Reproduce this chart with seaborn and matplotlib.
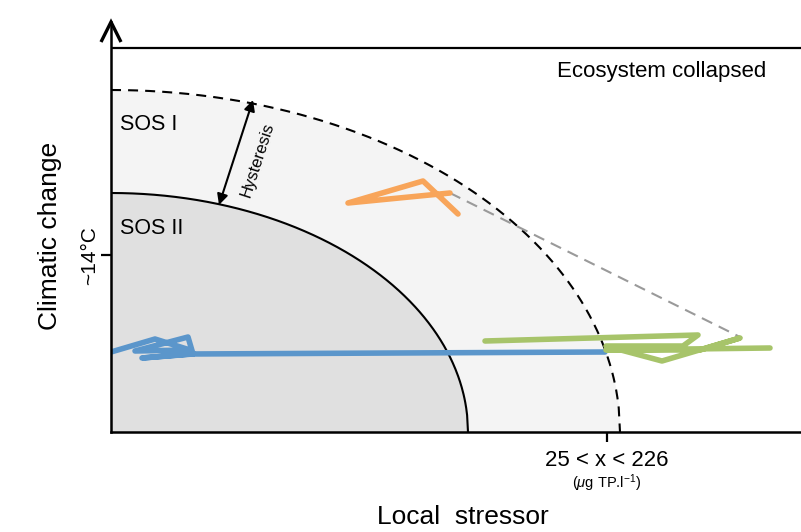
import numpy as np
import matplotlib
matplotlib.use("Agg")
import matplotlib.pyplot as plt
import seaborn as sns

# ---- data (x: local stressor units, y: climatic change units) ----
outer_a, outer_b = 509, 342          # SOS I boundary (dashed)
inner_a, inner_b = 357, 239          # SOS II boundary (solid)
collapse_y = 384                     # "Ecosystem collapsed" line

orange_x = [347, 312, 237, 339]
orange_y = [218, 251, 229, 239]
gray_x = [339, 631]
gray_y = [239, 94]
blue_x = [0, 44, 79, 24, 77, 82, 31, 79, 494]
blue_y = [80, 93, 82, 81, 95, 78, 74, 78, 80]
green_x = [374, 587, 572, 495, 551, 629, 589, 495, 659]
green_y = [91, 97, 86, 86, 71, 94, 82, 82, 84]

xtick_pos = [496]
ytick_pos = [177]
xtick_label = "25 < x < 226"
xtick_unit = r"($\mu$g TP.l$^{-1}$)"
ytick_label = "~14°C"

sns.set_style("white")
plt.rcParams['font.family'] = ['Liberation Sans', 'DejaVu Sans']
plt.rcParams['text.color'] = 'black'
plt.rcParams['mathtext.fontset'] = 'custom'
plt.rcParams['mathtext.rm'] = 'Liberation Sans'
plt.rcParams['mathtext.it'] = 'Liberation Sans:italic'

fig = plt.figure(figsize=(8.01, 5.32), dpi=100)
ax = fig.add_axes([111/801, 100/532, 690/801, 410/532])
ax.set_xlim(0, 690)
ax.set_ylim(0, 410)

# regions
xo = np.linspace(0, outer_a, 400)
yo = outer_b * np.sqrt(np.clip(1 - (xo/outer_a)**2, 0, None))
xi = np.linspace(0, inner_a, 400)
yi = inner_b * np.sqrt(np.clip(1 - (xi/inner_a)**2, 0, None))
ax.fill_between(xo, 0, yo, color='#f4f4f4', lw=0, zorder=1)
ax.fill_between(xi, 0, yi, color='#e0e0e0', lw=0, zorder=2)
ax.plot(xo, yo, color='black', lw=1.5, dashes=(4.8, 3.4), zorder=3)
ax.plot(xi, yi, color='black', lw=1.5, zorder=3)

# collapse line
ax.plot([0, 690], [collapse_y, collapse_y], color='black', lw=1.6, zorder=3)

# trajectories
sns.lineplot(x=gray_x, y=gray_y, sort=False, estimator=None, color='#9a9a9a',
             linewidth=1.5, ax=ax, zorder=4)
ax.lines[-1].set_dashes((5.5, 3.5))
for xs, ys, c in [(blue_x, blue_y, '#5b96cb'),
                  (green_x, green_y, '#a7c46a'),
                  (orange_x, orange_y, '#f8a55a')]:
    sns.lineplot(x=xs, y=ys, sort=False, estimator=None, color=c, ax=ax,
                 zorder=5)
    ax.lines[-1].set_linewidth(4.0)
    ax.lines[-1].set_solid_joinstyle('round')

# hysteresis arrow
ax.annotate('', xy=(142, 332), xytext=(108, 227),
            arrowprops=dict(arrowstyle='<|-|>', color='black', lw=1.5,
                            mutation_scale=16, shrinkA=0, shrinkB=0), zorder=6)
ax.text(146, 272, 'Hysteresis', rotation=72, ha='center', va='center',
        fontsize=12, zorder=6)

# spines, ticks
for s in ['top', 'right']:
    ax.spines[s].set_visible(False)
for s in ['left', 'bottom']:
    ax.spines[s].set_linewidth(1.8)
    ax.spines[s].set_color('black')
    ax.spines[s].set_zorder(7)
ax.set_xticks(xtick_pos)
ax.set_yticks(ytick_pos)
ax.set_xticklabels([''])
ax.set_yticklabels([''])
ax.tick_params(bottom=True, left=True, direction='inout', length=15,
               width=1.6, color='black')

# y axis arrow head
ax.plot([-10, 0, 10], [390, 410, 390], color='black', lw=2.4, clip_on=False,
        solid_capstyle='butt', solid_joinstyle='miter', zorder=8)

# texts
ax.text(-61, 196, 'Climatic change', rotation=90, ha='center', va='center',
        fontsize=19, clip_on=False)
ax.text(-21, 176, ytick_label, rotation=90, ha='center', va='center',
        fontsize=15, clip_on=False)
ax.text(352, -85, 'Local  stressor', ha='center', va='center', fontsize=19,
        clip_on=False)
ax.text(496, -28, xtick_label, ha='center', va='center', fontsize=16,
        clip_on=False)
ax.text(496, -51, xtick_unit, ha='center', va='center', fontsize=10.5,
        clip_on=False)
ax.text(446, 360, 'Ecosystem collapsed', ha='left', va='center', fontsize=16)
ax.text(9, 307, 'SOS I', ha='left', va='center', fontsize=15.5, zorder=6)
ax.text(9, 204, 'SOS II', ha='left', va='center', fontsize=15.5, zorder=6)

ax.set_xlabel('')
ax.set_ylabel('')
fig.savefig('out.png', dpi=100)
